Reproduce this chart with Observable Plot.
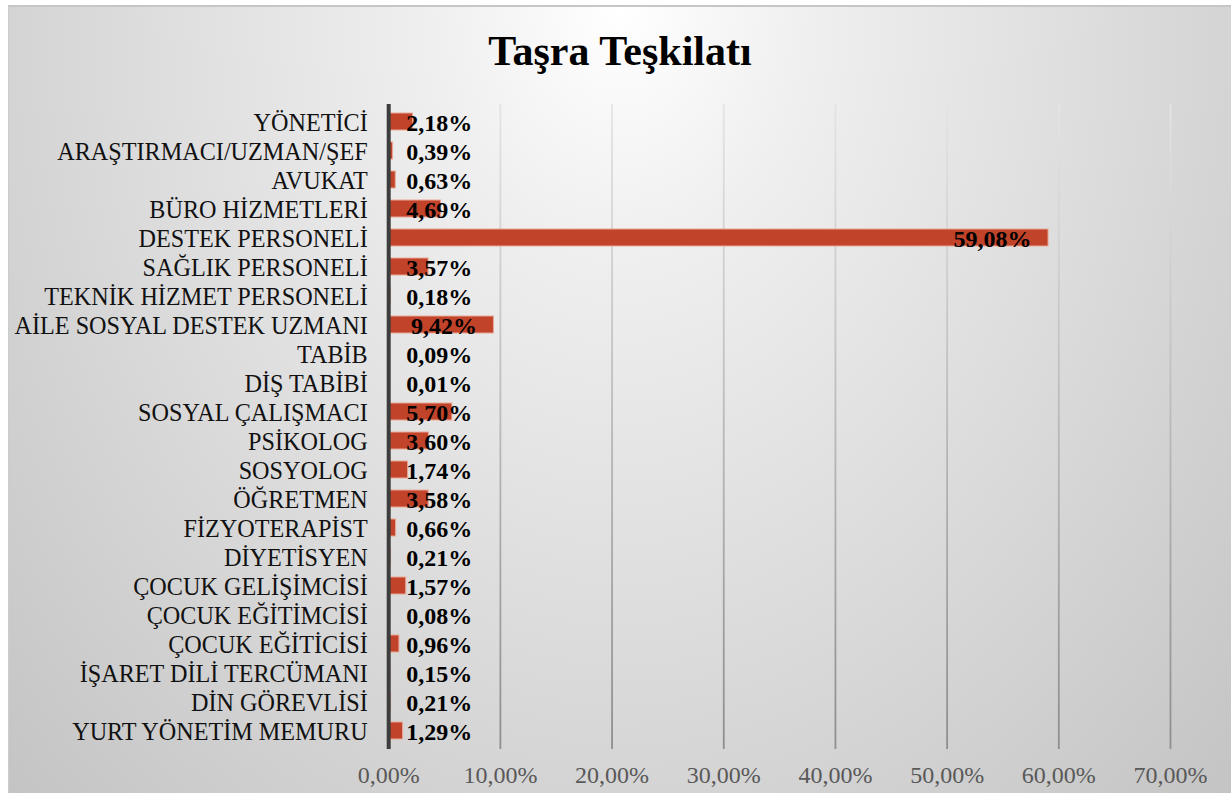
<!DOCTYPE html>
<html>
<head>
<meta charset="utf-8">
<script src="https://cdn.jsdelivr.net/npm/d3@7"></script>
<script src="https://cdn.jsdelivr.net/npm/@observablehq/plot@0.6"></script>
<style>
  html, body { margin: 0; padding: 0; background: #ffffff; }
  #page { position: relative; width: 1231px; height: 793px; overflow: hidden; }
  #panel {
    position: absolute; left: 8px; top: 5px; right: 0; bottom: 0;
    border-top: 2px solid #c6c6c6; border-left: 1px solid #cccccc;
    background: radial-gradient(ellipse farthest-corner at 50% 0%, #ffffff 0%, #efefef 22%, #c4c4c4 100%);
  }
  #title {
    position: absolute; left: 0; width: 1240px; top: 26px; text-align: center;
    font-family: "Liberation Serif", "Times New Roman", serif; font-weight: bold;
    font-size: 42px; color: #000; line-height: 50px;
  }
  #chart { position: absolute; left: 0; top: 0; }
</style>
</head>
<body>
<svg width="0" height="0" style="position:absolute">
  <defs>
    <linearGradient id="gridGrad" gradientUnits="userSpaceOnUse" x1="0" y1="105" x2="0" y2="749">
      <stop offset="0" stop-color="#e4e4e4"/>
      <stop offset="1" stop-color="#8e8e8e"/>
    </linearGradient>
  </defs>
</svg>
<div id="page">
  <div id="panel"></div>
  <div id="title">Taşra Teşkilatı</div>
  <div id="chart"></div>
</div>
<script>
const categories = [
  "YÖNETİCİ", "ARAŞTIRMACI/UZMAN/ŞEF", "AVUKAT", "BÜRO HİZMETLERİ", "DESTEK PERSONELİ",
  "SAĞLIK PERSONELİ", "TEKNİK HİZMET PERSONELİ", "AİLE SOSYAL DESTEK UZMANI", "TABİB",
  "DİŞ TABİBİ", "SOSYAL ÇALIŞMACI", "PSİKOLOG", "SOSYOLOG", "ÖĞRETMEN", "FİZYOTERAPİST",
  "DİYETİSYEN", "ÇOCUK GELİŞİMCİSİ", "ÇOCUK EĞİTİMCİSİ", "ÇOCUK EĞİTİCİSİ",
  "İŞARET DİLİ TERCÜMANI", "DİN GÖREVLİSİ", "YURT YÖNETİM MEMURU"
];
const values = [
  2.18, 0.39, 0.63, 4.69, 59.08,
  3.57, 0.18, 9.42, 0.09,
  0.01, 5.70, 3.60, 1.74, 3.58, 0.66,
  0.21, 1.57, 0.08, 0.96,
  0.15, 0.21, 1.29
];
const xTicks = [0, 10, 20, 30, 40, 50, 60, 70];

const data = categories.map((c, i) => ({cat: c, v: values[i]}));
const fmt = v => v.toFixed(2).replace(".", ",") + "%";

const chart = Plot.plot({
  width: 1231,
  height: 793,
  marginLeft: 388.2,
  marginRight: 61,
  marginTop: 104,
  marginBottom: 44,
  style: {background: "transparent", fontFamily: "'Liberation Serif', 'Times New Roman', serif"},
  x: {domain: [0, 70], axis: null},
  y: {domain: categories, paddingInner: 0.4, paddingOuter: 0.2, axis: null},
  marks: [
    Plot.ruleX(xTicks.slice(1), {stroke: "url(#gridGrad)", strokeWidth: 1.8}),
    Plot.barX(data, {x: "v", y: "cat", fill: "#c0432a", stroke: "#eaa896", strokeWidth: 1}),
    Plot.ruleX([0], {stroke: "#3d3d3d", strokeWidth: 4}),
    Plot.text(data, {
      x: d => Math.max(d.v, 9.0), y: "cat", text: d => fmt(d.v),
      textAnchor: "end", dx: -17, dy: 1.5, fontSize: 24, fontWeight: "bold", fill: "#000"
    }),
    Plot.axisY({tickSize: 0, tickPadding: 21, fontSize: 24.2, color: "#111", label: null, dy: 1}),
    Plot.axisX(xTicks, {tickSize: 0, tickPadding: 16, fontSize: 24, color: "#595959", label: null, tickFormat: fmt})
  ]
});
document.getElementById("chart").appendChild(chart);
</script>
</body>
</html>
